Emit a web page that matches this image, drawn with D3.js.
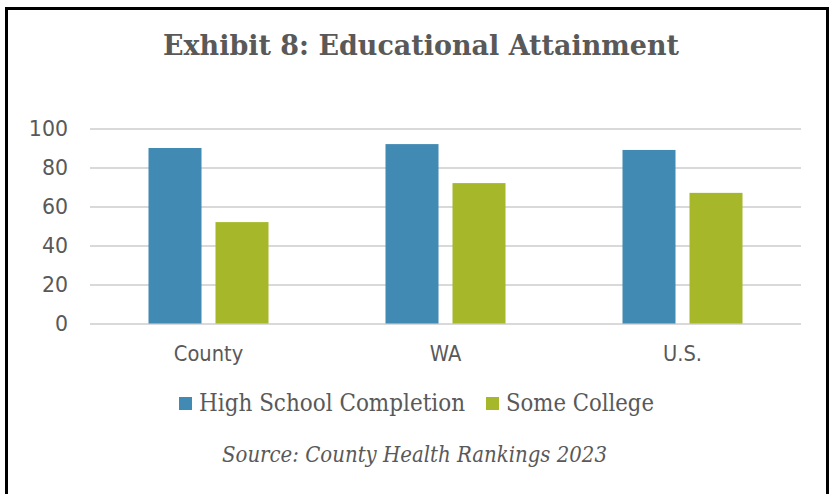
<!DOCTYPE html>
<html>
<head>
<meta charset="utf-8">
<script src="https://cdn.jsdelivr.net/npm/d3@7"></script>
<style>
  html, body { margin: 0; padding: 0; background: #fff; }
  svg { display: block; }
</style>
</head>
<body>
<script>
// Educational attainment by geography (County Health Rankings 2023)
const categories = ["County", "WA", "U.S."];
const seriesNames = ["High School Completion", "Some College"];
const highSchool = [90, 92, 89];
const someCollege = [52, 72, 67];
const yTicks = [0, 20, 40, 60, 80, 100];
const colors = ["#418AB3", "#A6B82A"];

const W = 833, H = 494;
const textGray = "#595959";
const svg = d3.select("body").append("svg").attr("width", W).attr("height", H);

// squeeze a text element horizontally to a given width (condensed serif look)
function condense(sel, width) {
  sel.attr("textLength", width).attr("lengthAdjust", "spacingAndGlyphs");
  return sel;
}

// outer frame
svg.append("rect")
  .attr("x", 6.5).attr("y", 8.5).attr("width", 821).attr("height", 500)
  .attr("fill", "#fff").attr("stroke", "#000").attr("stroke-width", 3);

const title = svg.append("text")
  .attr("x", 421).attr("y", 55)
  .attr("text-anchor", "middle")
  .attr("font-family", "DejaVu Serif, serif")
  .attr("font-weight", "bold")
  .attr("font-size", 28.5)
  .attr("fill", textGray)
  .text("Exhibit 8: Educational Attainment");
condense(title, 516);

const plot = { left: 90, right: 801, top: 128.5, bottom: 323.5 };

const x0 = d3.scaleBand().domain(categories).range([plot.left, plot.right]);
const x1 = d3.scaleBand().domain(seriesNames).range([58.5, 178.5]).paddingInner(0.209);
const y = d3.scaleLinear().domain([0, 100]).range([plot.bottom, plot.top]);

// gridlines + tick labels
const yAxis = d3.axisLeft(y).tickValues(yTicks).tickSize(-(plot.right - plot.left)).tickPadding(22);
const gy = svg.append("g").attr("transform", `translate(${plot.left},0)`).call(yAxis);
gy.select(".domain").remove();
gy.selectAll(".tick line").attr("stroke", "#D9D9D9").attr("stroke-width", 2);
gy.selectAll(".tick text")
  .attr("font-family", "DejaVu Sans, sans-serif")
  .attr("font-size", 20.5)
  .attr("fill", textGray);

const data = categories.map((c, i) => ({ cat: c, vals: [highSchool[i], someCollege[i]] }));

const groups = svg.append("g").selectAll("g").data(data).join("g")
  .attr("transform", d => `translate(${x0(d.cat)},0)`);
groups.selectAll("rect").data(d => d.vals.map((v, j) => ({ name: seriesNames[j], v, j })))
  .join("rect")
  .attr("x", d => x1(d.name))
  .attr("width", x1.bandwidth())
  .attr("y", d => y(d.v))
  .attr("height", d => y(0) - y(d.v))
  .attr("fill", d => colors[d.j]);

// category axis labels
const xAxis = d3.axisBottom(x0).tickSize(0).tickPadding(23);
const gx = svg.append("g").attr("transform", `translate(0,${plot.bottom})`).call(xAxis);
gx.select(".domain").remove();
gx.selectAll(".tick text")
  .attr("font-family", "DejaVu Sans, sans-serif")
  .attr("font-size", 20.5)
  .attr("fill", textGray)
  .each(function () {
    // slightly condensed sans labels
    const w = this.getComputedTextLength();
    d3.select(this).attr("textLength", w * 0.95).attr("lengthAdjust", "spacingAndGlyphs");
  });

// legend
const legendItems = [
  { name: seriesNames[0], color: colors[0], x: 179, w: 266 },
  { name: seriesNames[1], color: colors[1], x: 486, w: 148 }
];
const lg = svg.append("g");
legendItems.forEach(it => {
  lg.append("rect").attr("x", it.x).attr("y", 397).attr("width", 13).attr("height", 13).attr("fill", it.color);
  const t = lg.append("text").attr("x", it.x + 20).attr("y", 411)
    .attr("font-family", "DejaVu Serif, serif")
    .attr("font-size", 24)
    .attr("fill", textGray)
    .text(it.name);
  condense(t, it.w);
});

const src = svg.append("text")
  .attr("x", 414.5).attr("y", 462)
  .attr("text-anchor", "middle")
  .attr("font-family", "DejaVu Serif, serif")
  .attr("font-style", "italic")
  .attr("font-size", 22)
  .attr("fill", textGray)
  .text("Source: County Health Rankings 2023");
condense(src, 385);
</script>
</body>
</html>
